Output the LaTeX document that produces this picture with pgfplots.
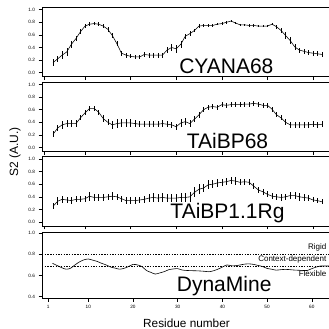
\documentclass[border=0pt]{standalone}
\usepackage{pgfplots}
\pgfplotsset{compat=1.18}
\usepackage{pgfplotstable}
\usepackage{fontspec}
\setmainfont{Liberation Sans}

\pgfplotstableread{
r c ce t te g ge
3 0.16 .05 0.21 .05 0.25 .05
4 0.22 .05 0.31 .05 0.33 .06
5 0.28 .06 0.36 .06 0.36 .06
6 0.33 .06 0.38 .05 0.35 .05
7 0.45 .06 0.38 .05 0.34 .05
8 0.54 .04 0.38 .05 0.36 .05
9 0.65 .04 0.47 .04 0.36 .05
10 0.74 .03 0.55 .04 0.37 .05
11 0.77 .03 0.62 .04 0.41 .07
12 0.78 .03 0.62 .04 0.39 .05
13 0.77 .03 0.56 .04 0.39 .05
14 0.74 .03 0.46 .05 0.39 .05
15 0.69 .04 0.40 .05 0.40 .05
16 0.59 .04 0.36 .06 0.41 .06
17 0.46 .04 0.38 .07 0.40 .05
18 0.31 .04 0.39 .07 0.37 .05
19 0.28 .04 0.39 .07 0.34 .05
20 0.26 .03 0.39 .06 0.34 .05
21 0.25 .03 0.38 .05 0.34 .05
22 0.25 .03 0.37 .05 0.35 .05
23 0.29 .04 0.37 .05 0.36 .06
24 0.28 .04 0.37 .05 0.38 .07
25 0.28 .04 0.37 .05 0.39 .07
26 0.28 .04 0.37 .05 0.38 .07
27 0.28 .04 0.38 .05 0.39 .07
28 0.36 .05 0.37 .05 0.38 .07
29 0.40 .05 0.36 .05 0.38 .07
30 0.38 .06 0.33 .05 0.38 .07
31 0.45 .06 0.39 .06 0.39 .07
32 0.58 .04 0.41 .06 0.39 .07
33 0.62 .04 0.38 .06 0.40 .08
34 0.67 .03 0.45 .05 0.47 .08
35 0.74 .03 0.52 .05 0.52 .08
36 0.75 .02 0.60 .04 0.54 .07
37 0.75 .02 0.64 .04 0.59 .07
38 0.75 .02 0.65 .04 0.60 .06
39 0.77 .02 0.64 .04 0.62 .06
40 0.78 .02 0.68 .04 0.63 .06
41 0.80 .02 0.67 .04 0.64 .06
42 0.82 .02 0.68 .04 0.66 .06
43 0.79 .02 0.68 .04 0.65 .06
44 0.76 .02 0.68 .04 0.63 .05
45 0.76 .02 0.69 .04 0.64 .05
46 0.75 .02 0.69 .04 0.63 .05
47 0.75 .02 0.70 .04 0.57 .05
48 0.74 .02 0.69 .04 0.51 .05
49 0.74 .02 0.67 .04 0.48 .05
50 0.74 .02 0.67 .04 0.44 .05
51 0.77 .02 0.61 .04 0.41 .05
52 0.73 .03 0.52 .04 0.40 .05
53 0.67 .04 0.47 .04 0.39 .05
54 0.59 .05 0.40 .05 0.40 .05
55 0.51 .05 0.36 .05 0.42 .06
56 0.41 .05 0.36 .05 0.42 .06
57 0.36 .04 0.36 .05 0.40 .06
58 0.34 .04 0.36 .05 0.39 .05
59 0.32 .04 0.36 .05 0.38 .05
60 0.31 .04 0.37 .05 0.35 .04
61 0.30 .04 0.36 .05 0.34 .04
62 0.29 .04 0.37 .05 0.32 .04
}\nmr

\pgfplotstableread{
r d
2 0.715
3 0.695
4 0.675
5 0.660
6 0.668
7 0.700
8 0.728
9 0.748
10 0.756
11 0.745
12 0.733
13 0.715
14 0.700
15 0.680
16 0.670
17 0.660
18 0.668
19 0.685
20 0.705
21 0.700
22 0.685
23 0.648
24 0.630
25 0.614
26 0.625
27 0.637
28 0.655
29 0.662
30 0.665
31 0.652
32 0.648
33 0.646
34 0.645
35 0.643
36 0.640
37 0.636
38 0.645
39 0.660
40 0.680
41 0.700
42 0.692
43 0.693
44 0.700
45 0.708
46 0.710
47 0.705
48 0.695
49 0.685
50 0.667
51 0.660
52 0.651
53 0.655
54 0.658
55 0.656
56 0.652
57 0.650
58 0.648
59 0.648
60 0.665
61 0.680
62 0.690
63 0.690
64 0.690
}\dyn

\pgfplotsset{
  panel/.style={
    scale only axis, width=289pt, anchor=north west, clip=false,
    axis line style={line width=0.6pt},
    tick style={black, line width=0.5pt},
    tick align=outside, major tick length=3.5pt,
    tick pos=left,
    ticklabel style={font=\fontsize{4.7}{5}\selectfont},
    /pgf/number format/assume math mode=true,
    yticklabel style={/pgf/number format/.cd, fixed, fixed zerofill, precision=1},
    xtick={1,10,20,30,40,50,60},
  },
  toppanel/.style={panel, xmin=0.57, xmax=63.95, ymin=-0.06, ymax=1.04,
    height=69.3pt, ytick={0,0.2,0.4,0.6,0.8,1.0}, xticklabels={}},
  dline/.style={black, line width=0.55pt},
  ebar/.style={error bars/.cd, y dir=both, y explicit, error mark=none,
    error bar style={black, line width=0.5pt}},
}
\tikzset{
  big/.style={anchor=base, font=\fontsize{21}{24}\selectfont, inner sep=0pt},
  small/.style={anchor=base east, font=\fontsize{8}{9}\selectfont, inner sep=0pt},
}

\begin{document}
\begin{tikzpicture}
\begin{axis}[toppanel, at={(42pt,-7.2pt)}]
\addplot[dline, ebar] table[x=r, y=c, y error=ce] {\nmr};
\node[big] at (axis cs:41.0,-0.01) {CYANA68};
\end{axis}
\begin{axis}[toppanel, at={(42pt,-82pt)}]
\addplot[dline, ebar] table[x=r, y=t, y error=te] {\nmr};
\node[big] at (axis cs:41.25,-0.01) {TAiBP68};
\end{axis}
\begin{axis}[toppanel, at={(42pt,-156.5pt)}]
\addplot[dline, ebar] table[x=r, y=g, y error=ge] {\nmr};
\node[big] at (axis cs:41.25,0.06) {TAiBP1.1Rg};
\end{axis}
\begin{axis}[panel, at={(42pt,-232.3pt)}, xmin=-0.36, xmax=64.3, ymin=0.388, ymax=1.008,
  height=65.7pt, ytick={0.4,0.6,0.8,1.0}]
\draw[black, line width=0.55pt, dash pattern=on 1.4pt off 1.3pt] (axis cs:-0.36,0.8) -- (axis cs:64.3,0.8);
\draw[black, line width=0.55pt, dash pattern=on 1.4pt off 1.3pt] (axis cs:-0.36,0.69) -- (axis cs:64.3,0.69);
\addplot[black, line width=0.6pt, smooth] table[x=r, y=d] {\dyn};
\node[big] at (axis cs:40.4,0.447) {DynaMine};
\node[small] at (axis cs:63.3,0.85) {Rigid};
\node[small] at (axis cs:63.3,0.737) {Context-dependent};
\node[small] at (axis cs:63.3,0.595) {Flexible};
\end{axis}
\node[rotate=90, font=\fontsize{12}{14}\selectfont] at (15pt,-151.7pt) {S2 (A.U.)};
\node[anchor=base, font=\fontsize{11.8}{14}\selectfont] at (186.5pt,-327pt) {Residue number};
\pgfresetboundingbox
\useasboundingbox (0pt,0pt) rectangle (329pt,-329pt);
\end{tikzpicture}
\end{document}
